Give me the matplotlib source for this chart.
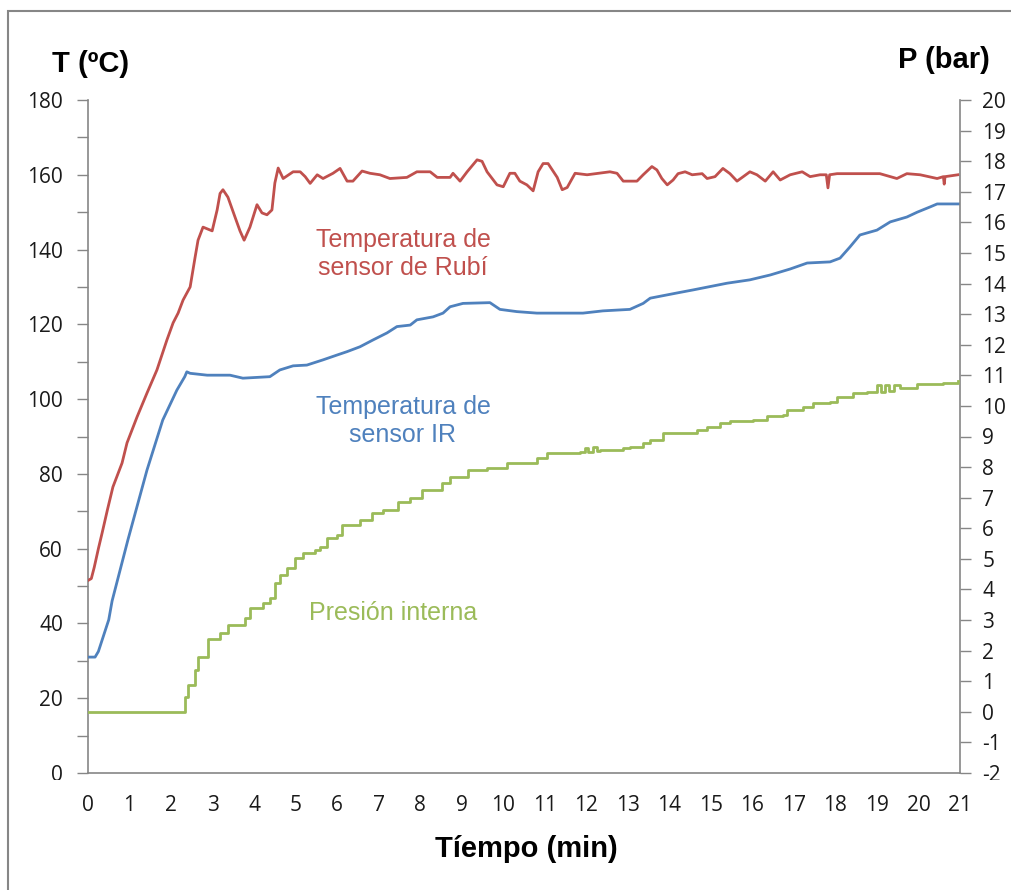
import matplotlib
matplotlib.use("Agg")
import matplotlib.pyplot as plt
from matplotlib.patches import Rectangle

# ---- data ----
t_rubi = [0, 0.08, 0.15, 0.25, 0.34, 0.47, 0.6, 0.82, 0.94, 1.18, 1.42, 1.66, 1.9, 2.05, 2.17, 2.29,
          2.46, 2.58, 2.65, 2.77, 2.99, 3.11, 3.18, 3.25, 3.37, 3.54, 3.66, 3.76, 3.9, 4.07, 4.19, 4.31,
          4.43, 4.5, 4.58, 4.7, 4.94, 5.11, 5.23, 5.35, 5.52, 5.66, 5.9, 6.07, 6.24, 6.38, 6.6, 6.79,
          7.03, 7.27, 7.68, 7.92, 8.24, 8.41, 8.72, 8.79, 8.96, 9.13, 9.37, 9.49, 9.61, 9.85, 10.0,
          10.16, 10.28, 10.4, 10.57, 10.72, 10.84, 10.96, 11.08, 11.3, 11.42, 11.54, 11.73, 12.02,
          12.57, 12.74, 12.89, 13.22, 13.37, 13.58, 13.7, 13.82, 13.95, 14.09, 14.21, 14.38, 14.55,
          14.79, 14.91, 15.1, 15.29, 15.46, 15.63, 15.78, 15.94, 16.11, 16.31, 16.5, 16.67, 16.91,
          17.2, 17.39, 17.63, 17.78, 17.82, 17.86, 18.04, 18.42, 19.07, 19.48, 19.72, 20.04, 20.45,
          20.6, 20.62, 20.64, 20.95]
T_rubi = [51.5, 52, 55, 60, 64.2, 70.5, 76.5, 82.9, 88.3, 95.2, 101.6, 107.8, 115.8, 120.4, 123, 126.5,
          130, 138, 142.5, 146, 145, 150.6, 155, 156, 154, 148.7, 145, 142.5, 146, 152, 149.8, 149.3,
          150.6, 157.8, 161.8, 159, 160.8, 160.8, 159.5, 157.7, 160, 159, 160.4, 161.7, 158.3, 158.3,
          161, 160.4, 160, 159, 159.3, 160.8, 160.8, 159.3, 159.3, 160.4, 158.3, 160.8, 164, 163.6,
          160.8, 157.3, 156.8, 160.4, 160.4, 158.3, 157.3, 155.7, 160.8, 163, 163, 159.3, 156, 156.6,
          160.4, 160, 160.8, 160.4, 158.3, 158.3, 160, 162.2, 161.3, 159, 157.3, 158.6, 160.3, 160.8,
          160, 160.3, 159, 159.5, 161.7, 160.3, 158.3, 159.5, 160.8, 160, 158.3, 160.8, 158.6, 160,
          160.8, 159.5, 160, 160, 156.5, 160, 160.3, 160.3, 160.3, 159, 160.3, 160, 159, 159.5, 157.5,
          159.5, 160]

t_ir = [0, 0.17, 0.25, 0.5, 0.58, 0.96, 1.42, 1.8, 2.14, 2.33, 2.38, 2.46, 2.87, 3.42, 3.73, 4.38,
        4.62, 4.94, 5.27, 5.66, 6.0, 6.24, 6.55, 6.86, 7.2, 7.44, 7.76, 7.92, 8.31, 8.55, 8.72, 9.03,
        9.68, 9.92, 10.33, 10.81, 11.92, 12.4, 13.05, 13.37, 13.54, 14.19, 14.57, 15.39, 15.94, 16.43,
        16.91, 17.32, 17.87, 18.11, 18.35, 18.59, 19.0, 19.32, 19.72, 19.97, 20.28, 20.45, 21.0]
T_ir = [31, 31, 32.5, 41, 46, 62.3, 81, 94.4, 102.4, 106, 107.3, 106.9, 106.4, 106.4, 105.6, 106,
        107.8, 108.9, 109.1, 110.5, 111.8, 112.7, 114, 115.8, 117.7, 119.4, 119.8, 121.2, 122, 123,
        124.7, 125.6, 125.8, 124, 123.4, 123, 123, 123.6, 124, 125.6, 127, 128.4, 129.2, 131, 131.9,
        133.2, 134.8, 136.4, 136.7, 137.7, 140.7, 143.9, 145.2, 147.4, 148.7, 150, 151.4, 152.2, 152.2]

t_p = [0, 2.34, 2.41, 2.58, 2.65, 2.89, 3.18, 3.37, 3.78, 3.9, 4.21, 4.38, 4.5, 4.62, 4.79, 4.99,
       5.18, 5.47, 5.59, 5.76, 6.0, 6.12, 6.55, 6.84, 7.1, 7.47, 7.76, 8.04, 8.53, 8.72, 9.15, 9.61,
       10.09, 10.81, 11.05, 11.85, 11.97, 12.05, 12.15, 12.25, 12.33, 12.89, 13.05, 13.37, 13.54,
       13.85, 14.67, 14.91, 15.22, 15.46, 16.02, 16.35, 16.74, 16.84, 17.22, 17.46, 17.87, 18.04,
       18.42, 18.76, 19.0, 19.1, 19.2, 19.3, 19.4, 19.56, 19.97, 20.59, 20.95]
P_int = [0.0, 0.48, 0.88, 1.37, 1.8, 2.38, 2.58, 2.84, 3.07, 3.39, 3.56, 3.72, 4.21, 4.47, 4.7, 5.03,
         5.19, 5.29, 5.39, 5.68, 5.78, 6.11, 6.27, 6.5, 6.6, 6.86, 6.99, 7.25, 7.48, 7.68, 7.9, 7.97,
         8.13, 8.3, 8.46, 8.49, 8.62, 8.5, 8.66, 8.52, 8.56, 8.62, 8.66, 8.79, 8.89,
         9.11, 9.21, 9.31, 9.44, 9.51, 9.54, 9.67, 9.7, 9.87, 9.96, 10.1, 10.13, 10.29,
         10.42, 10.46, 10.68, 10.46, 10.68, 10.5, 10.68, 10.58, 10.72, 10.75, 10.8]

x_ticks = list(range(0, 22))
t_ticks = list(range(0, 181, 10))
t_labels = [str(v) if v % 20 == 0 else "" for v in t_ticks]
p_ticks = list(range(-2, 21))

RED = "#C0504D"
BLUE = "#4F81BD"
GREEN = "#9BBB59"
GRAY = "#868686"

W, H = 1012, 890
fig = plt.figure(figsize=(W / 100, H / 100), dpi=100)
ax = fig.add_axes([88 / W, 1 - 773 / H, (960 - 88) / W, (773 - 100) / H])
ax2 = ax.twinx()

ax.plot(t_rubi, T_rubi, color=RED, lw=2.0, zorder=3)
ax.plot(t_ir, T_ir, color=BLUE, lw=2.0, zorder=3)
ax2.plot(t_p, P_int, color=GREEN, lw=2.0, drawstyle="steps-post", zorder=3)

ax.set_xlim(0, 21)
ax.set_ylim(0, 180)
ax2.set_ylim(-2, 20)

tick_font = dict(family="Open Sans", size=15)
ax.set_xticks(x_ticks)
ax.set_xticklabels([str(v) for v in x_ticks], **tick_font)
ax.set_yticks(t_ticks)
ax.set_yticklabels(t_labels, **tick_font)
ax2.set_yticks(p_ticks)
ax2.set_yticklabels([str(v) for v in p_ticks], **tick_font)

ax.tick_params(axis="x", length=0, pad=16, colors="#1a1a1a")
ax.tick_params(axis="y", length=8, width=1, color=GRAY, direction="out", pad=10, labelcolor="#1a1a1a")
ax2.tick_params(axis="y", length=8, width=1, color=GRAY, direction="out", pad=8, labelcolor="#1a1a1a")

for a in (ax, ax2):
    a.spines["top"].set_visible(False)
    for s in ("left", "right", "bottom"):
        a.spines[s].set_color(GRAY)
        a.spines[s].set_linewidth(1.2)
ax2.spines["left"].set_visible(False)
ax2.spines["bottom"].set_visible(False)
ax.spines["right"].set_visible(False)

bold = dict(family="Liberation Sans", size=21, weight="bold", color="black")
fig.text(91 / W, 1 - 64 / H, "T (ºC)", ha="center", va="center", **bold)
fig.text(944 / W, 1 - 60 / H, "P (bar)", ha="center", va="center", **bold)
fig.text(526 / W, 1 - 849 / H, "Tíempo (min)", ha="center", va="center", **bold)

ann = dict(family="Liberation Sans", size=18)
fig.text(403 / W, 1 - 254 / H, "Temperatura de\nsensor de Rubí", ha="center", va="center",
         color=RED, linespacing=1.25, **ann)
fig.text(403 / W, 1 - 421 / H, "Temperatura de\nsensor IR", ha="center", va="center",
         color=BLUE, linespacing=1.25, **ann)
fig.text(393 / W, 1 - 613 / H, "Presión interna", ha="center", va="center", color=GREEN, **ann)

# the lowest tick labels are cut off in the original
fig.add_artist(Rectangle((15 / W, 1 - 792 / H), 60 / W, 12 / H, transform=fig.transFigure,
                         facecolor="white", edgecolor="none", zorder=10))
fig.add_artist(Rectangle((975 / W, 1 - 792 / H), 40 / W, 12 / H, transform=fig.transFigure,
                         facecolor="white", edgecolor="none", zorder=10))

fig.add_artist(Rectangle((8 / W, -0.1), 1.2, 1 - 11 / H + 0.1, transform=fig.transFigure,
                         fill=False, edgecolor=GRAY, lw=1.5, zorder=11))

fig.savefig("out.png", dpi=100)
